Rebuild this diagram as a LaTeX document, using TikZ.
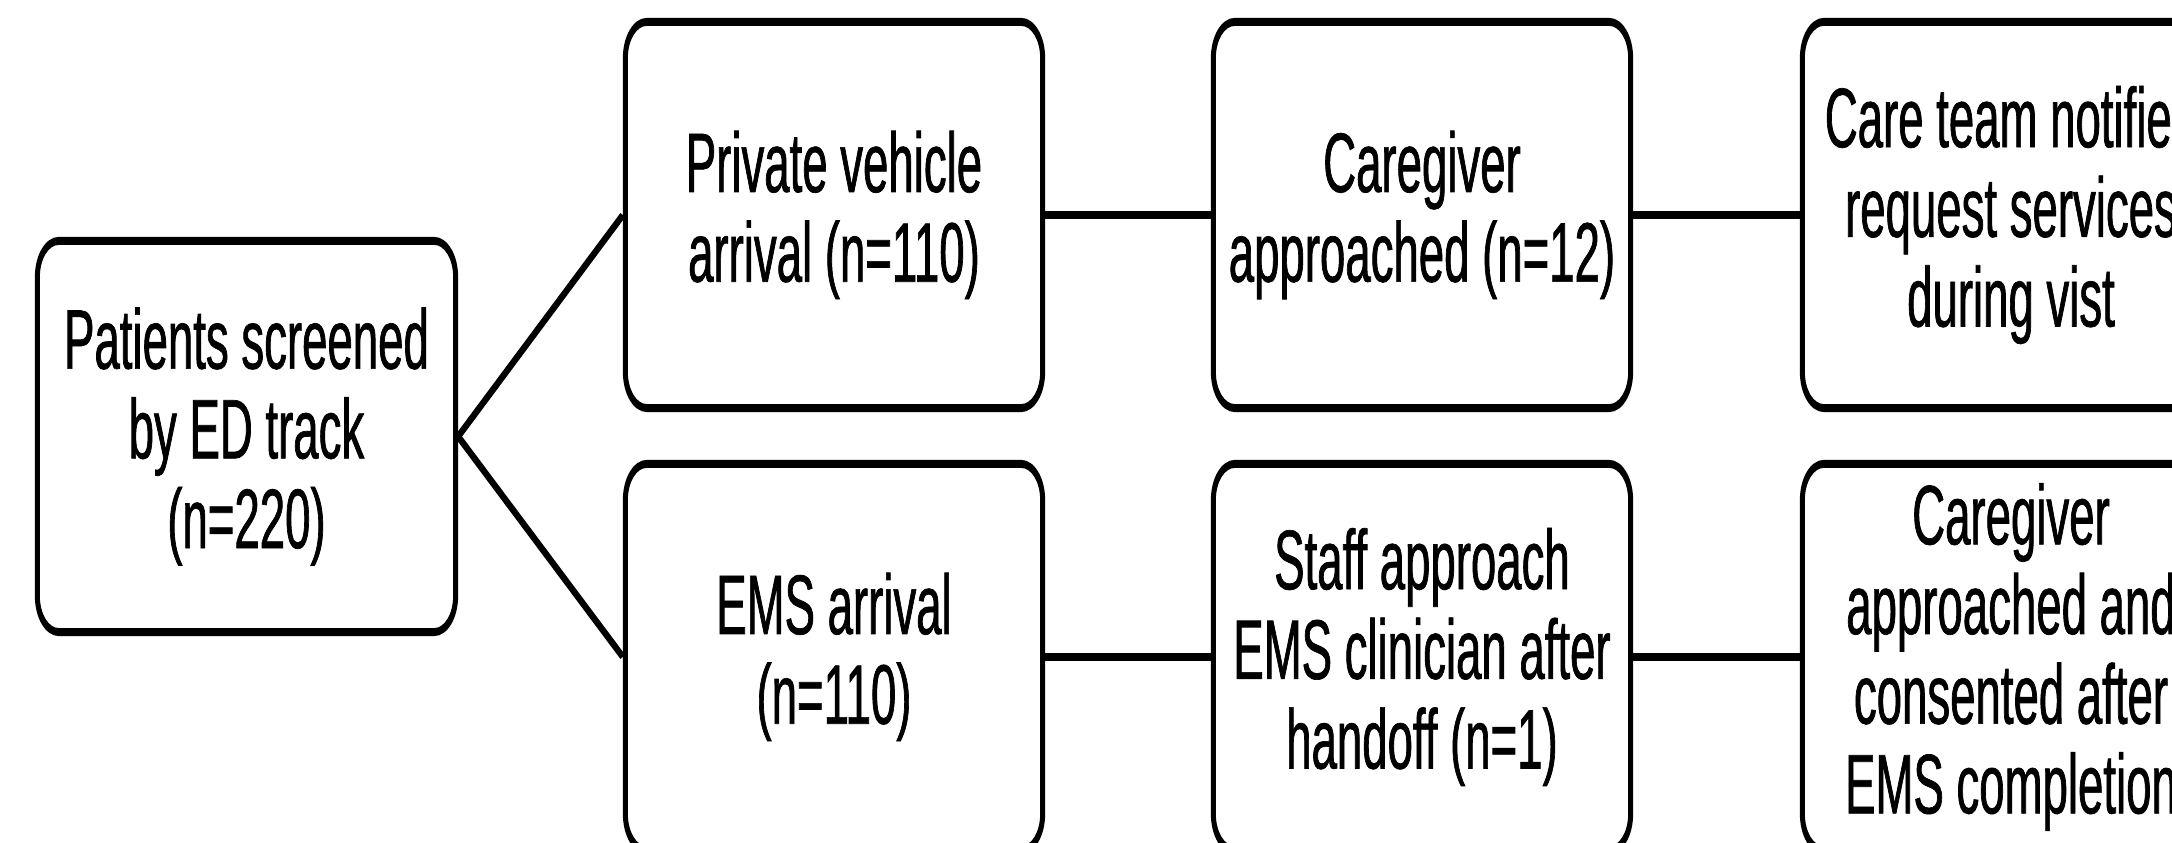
\documentclass[tikz,border=0pt]{standalone}
\usepackage{fontspec}
\setmainfont{Liberation Sans}[FakeStretch=0.54,FakeBold=0.8]
\usetikzlibrary{calc}
\newcommand\stageframe[1]{%
  \fill[even odd rule]
    ($(#1.north west)+(0,-40)$) arc[start angle=180,end angle=90,x radius=24,y radius=40]
    -- ($(#1.north east)+(-24,0)$) arc[start angle=90,end angle=0,x radius=24,y radius=40]
    -- ($(#1.south east)+(0,40)$) arc[start angle=0,end angle=-90,x radius=24,y radius=40]
    -- ($(#1.south west)+(24,0)$) arc[start angle=270,end angle=180,x radius=24,y radius=40] -- cycle
    ($(#1.north west)+(5,-40)$) arc[start angle=180,end angle=90,x radius=19,y radius=32]
    -- ($(#1.north east)+(-24,-8)$) arc[start angle=90,end angle=0,x radius=19,y radius=32]
    -- ($(#1.south east)+(-5,40)$) arc[start angle=0,end angle=-90,x radius=19,y radius=32]
    -- ($(#1.south west)+(24,8)$) arc[start angle=270,end angle=180,x radius=19,y radius=32] -- cycle;%
}
\begin{document}
\begin{tikzpicture}[x=0.01cm,y=0.01cm,
  stage/.style={rectangle,inner sep=0pt,outer sep=0pt,align=center,
    minimum width=4.22cm,minimum height=3.94cm,
    font=\fontsize{24}{25.5}\selectfont},
  hconn/.style={line width=2.3pt},
  dconn/.style={line width=1.8pt}]
\useasboundingbox (0,0) rectangle (2172,843);
\fill[white] (0,0) rectangle (2172,843);
\node[stage,minimum width=4.23cm,minimum height=3.99cm] (n0) at (246.5,406.5) {Patients screened\\by ED track\\(n=220)};
\node[stage] (p2t) at (834,628) {Private vehicle\\arrival (n=110)};
\node[stage] (p3t) at (1422,628) {Caregiver\\approached (n=12)};
\node[stage] (p4t) at (2011,628) {Care team notified\\request services\\during vist};
\node[stage] (p2b) at (834,186) {EMS arrival\\(n=110)};
\node[stage] (p3b) at (1422,186) {Staff approach\\EMS clinician after\\handoff (n=1)};
\node[stage] (p4b) at (2011,186) {Caregiver\\approached and\\consented after\\EMS completion};
\stageframe{n0}
\stageframe{p2t}
\stageframe{p3t}
\stageframe{p4t}
\stageframe{p2b}
\stageframe{p3b}
\stageframe{p4b}
\draw[dconn] (n0.east) -- (p2t.west);
\draw[dconn] (n0.east) -- (p2b.west);
\draw[hconn] (p2t.east) -- (p3t.west);
\draw[hconn] (p3t.east) -- (p4t.west);
\draw[hconn] (p2b.east) -- (p3b.west);
\draw[hconn] (p3b.east) -- (p4b.west);
\end{tikzpicture}
\end{document}
